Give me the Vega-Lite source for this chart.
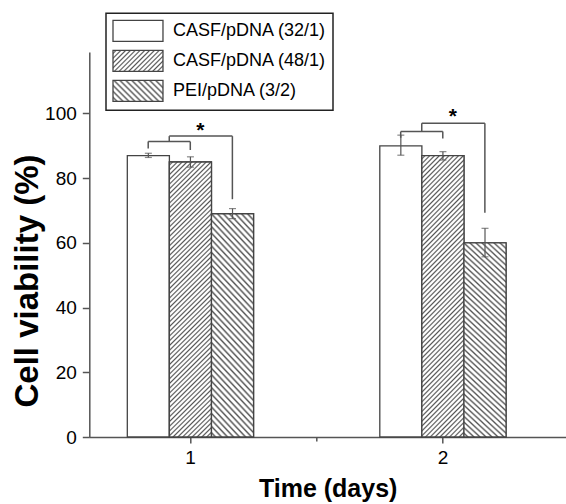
{
  "$schema": "https://vega.github.io/schema/vega-lite/v6.json",
  "width": 476.7,
  "height": 385,
  "autosize": {"type": "none"},
  "padding": {"left": 89.3, "top": 52, "right": 0, "bottom": 67},
  "background": "white",
  "config": {"view": {"stroke": null}, "font": "Liberation Sans", "legend": {"strokeWidth": 1.5}},
  "datasets": {
    "bars": [
      {"day": "1", "series": "CASF/pDNA (32/1)", "mean": 87, "lo": 86.4, "hi": 87.7},
      {"day": "1", "series": "CASF/pDNA (48/1)", "mean": 85, "lo": 83.4, "hi": 86.6},
      {"day": "1", "series": "PEI/pDNA (3/2)", "mean": 69, "lo": 67.5, "hi": 70.6},
      {"day": "2", "series": "CASF/pDNA (32/1)", "mean": 90, "lo": 87.1, "hi": 93.3},
      {"day": "2", "series": "CASF/pDNA (48/1)", "mean": 87, "lo": 85.6, "hi": 88.2},
      {"day": "2", "series": "PEI/pDNA (3/2)", "mean": 60, "lo": 55.7, "hi": 64.5}
    ],
    "brackets": [
      {"x1": 0.8333, "x2": 0.8333, "y1": 89.2, "y2": 91.3},
      {"x1": 0.8333, "x2": 1.0, "y1": 91.3, "y2": 91.3},
      {"x1": 1.0, "x2": 1.0, "y1": 91.3, "y2": 88.7},
      {"x1": 0.9167, "x2": 0.9167, "y1": 91.3, "y2": 93.0},
      {"x1": 0.9167, "x2": 1.1667, "y1": 93.0, "y2": 93.0},
      {"x1": 1.1667, "x2": 1.1667, "y1": 93.0, "y2": 73.5},
      {"x1": 1.8333, "x2": 1.8333, "y1": 92.5, "y2": 94.4},
      {"x1": 1.8333, "x2": 2.0, "y1": 94.4, "y2": 94.4},
      {"x1": 2.0, "x2": 2.0, "y1": 94.4, "y2": 92.3},
      {"x1": 1.9167, "x2": 1.9167, "y1": 94.4, "y2": 97.0},
      {"x1": 1.9167, "x2": 2.1667, "y1": 97.0, "y2": 97.0},
      {"x1": 2.1667, "x2": 2.1667, "y1": 97.0, "y2": 69.3}
    ],
    "stars": [
      {"x": 1.04, "y": 92.8},
      {"x": 2.04, "y": 97.2}
    ]
  },
  "layer": [
    {
      "data": {"name": "bars"},
      "encoding": {
        "x": {
          "field": "day", "type": "nominal",
          "scale": {"domain": ["1", "2"], "paddingInner": 0.5, "paddingOuter": 0.194, "align": 0.388},
          "axis": {"orient": "bottom", "title": "Time (days)", "titleFontSize": 25, "titleFontWeight": "bold", "titleColor": "#000", "titlePadding": 9, "labelAngle": 0, "labelFontSize": 19, "labelColor": "#000", "labelPadding": 5, "tickSize": 6, "tickColor": "#555", "tickWidth": 1.5, "domainColor": "#555", "domainWidth": 1.5, "grid": false}
        },
        "xOffset": {
          "field": "series", "type": "nominal",
          "scale": {"domain": ["CASF/pDNA (32/1)", "CASF/pDNA (48/1)", "PEI/pDNA (3/2)"], "paddingInner": 0, "paddingOuter": 0}
        },
        "y": {
          "field": "mean", "type": "quantitative",
          "scale": {"domain": [0, 119], "nice": false},
          "axis": {"values": [0, 20, 40, 60, 80, 100], "title": "Cell viability (%)", "titleFontSize": 33, "titleFontWeight": "bold", "titleColor": "#000", "titleX": -52, "titleY": 228.5, "titleBaseline": "alphabetic", "titleAngle": -90, "titleAlign": "center", "labelFontSize": 19, "labelColor": "#000", "labelPadding": 6, "tickSize": 7, "tickColor": "#555", "tickWidth": 1.5, "domainColor": "#555", "domainWidth": 1.5, "grid": false}
        }
      },
      "layer": [
        {
          "mark": {"type": "bar", "stroke": "#444", "strokeWidth": 1.3},
          "encoding": {
            "fill": {
              "field": "series", "type": "nominal",
              "scale": {"domain": ["CASF/pDNA (32/1)", "CASF/pDNA (48/1)", "PEI/pDNA (3/2)"], "range": [
                "#ffffff",
                {"expr": "{gradient:'linear',x1:0,y1:0,x2:1.207,y2:0.5072,stops:[{offset:0.0225,color:'#fff'},{offset:0.045,color:'#555'},{offset:0.0675,color:'#fff'},{offset:0.09,color:'#fff'},{offset:0.1125,color:'#555'},{offset:0.135,color:'#fff'},{offset:0.1575,color:'#fff'},{offset:0.18,color:'#555'},{offset:0.2025,color:'#fff'},{offset:0.225,color:'#fff'},{offset:0.2475,color:'#555'},{offset:0.27,color:'#fff'},{offset:0.2925,color:'#fff'},{offset:0.315,color:'#555'},{offset:0.3375,color:'#fff'},{offset:0.36,color:'#fff'},{offset:0.3825,color:'#555'},{offset:0.405,color:'#fff'},{offset:0.4275,color:'#fff'},{offset:0.45,color:'#555'},{offset:0.4725,color:'#fff'},{offset:0.495,color:'#fff'},{offset:0.5175,color:'#555'},{offset:0.54,color:'#fff'},{offset:0.5625,color:'#fff'},{offset:0.585,color:'#555'},{offset:0.6075,color:'#fff'},{offset:0.63,color:'#fff'},{offset:0.6525,color:'#555'},{offset:0.675,color:'#fff'},{offset:0.6975,color:'#fff'},{offset:0.72,color:'#555'},{offset:0.7425,color:'#fff'},{offset:0.765,color:'#fff'},{offset:0.7875,color:'#555'},{offset:0.81,color:'#fff'},{offset:0.8325,color:'#fff'},{offset:0.855,color:'#555'},{offset:0.8775,color:'#fff'},{offset:0.9,color:'#fff'},{offset:0.9225,color:'#555'},{offset:0.945,color:'#fff'}]}"},
                {"expr": "{gradient:'linear',x1:0,y1:1,x2:1.207,y2:0.4928,stops:[{offset:0.028,color:'#fff'},{offset:0.056,color:'#555'},{offset:0.084,color:'#fff'},{offset:0.112,color:'#fff'},{offset:0.14,color:'#555'},{offset:0.168,color:'#fff'},{offset:0.196,color:'#fff'},{offset:0.224,color:'#555'},{offset:0.252,color:'#fff'},{offset:0.28,color:'#fff'},{offset:0.308,color:'#555'},{offset:0.336,color:'#fff'},{offset:0.364,color:'#fff'},{offset:0.392,color:'#555'},{offset:0.42,color:'#fff'},{offset:0.448,color:'#fff'},{offset:0.476,color:'#555'},{offset:0.504,color:'#fff'},{offset:0.532,color:'#fff'},{offset:0.56,color:'#555'},{offset:0.588,color:'#fff'},{offset:0.616,color:'#fff'},{offset:0.644,color:'#555'},{offset:0.672,color:'#fff'},{offset:0.7,color:'#fff'},{offset:0.728,color:'#555'},{offset:0.756,color:'#fff'},{offset:0.784,color:'#fff'},{offset:0.812,color:'#555'},{offset:0.84,color:'#fff'},{offset:0.868,color:'#fff'},{offset:0.896,color:'#555'},{offset:0.924,color:'#fff'}]}"}
              ]},
              "legend": {
                "orient": "none", "legendX": 16.7, "legendY": -38.7,
                "title": null,
                "symbolType": "M-1,-1H3.76V1H-1Z",
                "symbolSize": 441,
                "symbolStrokeColor": "#444", "symbolStrokeWidth": 1.3,
                "labelFontSize": 18, "labelColor": "#000", "labelOffset": 38, "labelLimit": 300,
                "rowPadding": 3, "padding": 6,
                "strokeColor": "#222", "fillColor": "#ffffff"
              }
            }
          }
        },
        {
          "transform": [{"filter": "datum.series === 'CASF/pDNA (48/1)'"}],
          "mark": {"type": "bar", "stroke": "#444", "strokeWidth": 1.3, "fill": {"gradient": "linear", "x1": 0, "y1": 0, "x2": 0.1702, "y2": 1.1254, "stops": [
{"offset":0.005,"color":"#fff"},{"offset":0.01,"color":"#555"},{"offset":0.015,"color":"#fff"},
{"offset":0.02,"color":"#fff"},{"offset":0.025,"color":"#555"},{"offset":0.03,"color":"#fff"},
{"offset":0.035,"color":"#fff"},{"offset":0.04,"color":"#555"},{"offset":0.045,"color":"#fff"},
{"offset":0.05,"color":"#fff"},{"offset":0.055,"color":"#555"},{"offset":0.06,"color":"#fff"},
{"offset":0.065,"color":"#fff"},{"offset":0.07,"color":"#555"},{"offset":0.075,"color":"#fff"},
{"offset":0.08,"color":"#fff"},{"offset":0.085,"color":"#555"},{"offset":0.09,"color":"#fff"},
{"offset":0.095,"color":"#fff"},{"offset":0.1,"color":"#555"},{"offset":0.105,"color":"#fff"},
{"offset":0.11,"color":"#fff"},{"offset":0.115,"color":"#555"},{"offset":0.12,"color":"#fff"},
{"offset":0.125,"color":"#fff"},{"offset":0.13,"color":"#555"},{"offset":0.135,"color":"#fff"},
{"offset":0.14,"color":"#fff"},{"offset":0.145,"color":"#555"},{"offset":0.15,"color":"#fff"},
{"offset":0.155,"color":"#fff"},{"offset":0.16,"color":"#555"},{"offset":0.165,"color":"#fff"},
{"offset":0.17,"color":"#fff"},{"offset":0.175,"color":"#555"},{"offset":0.18,"color":"#fff"},
{"offset":0.185,"color":"#fff"},{"offset":0.19,"color":"#555"},{"offset":0.195,"color":"#fff"},
{"offset":0.2,"color":"#fff"},{"offset":0.205,"color":"#555"},{"offset":0.21,"color":"#fff"},
{"offset":0.215,"color":"#fff"},{"offset":0.22,"color":"#555"},{"offset":0.225,"color":"#fff"},
{"offset":0.23,"color":"#fff"},{"offset":0.235,"color":"#555"},{"offset":0.24,"color":"#fff"},
{"offset":0.245,"color":"#fff"},{"offset":0.25,"color":"#555"},{"offset":0.255,"color":"#fff"},
{"offset":0.26,"color":"#fff"},{"offset":0.265,"color":"#555"},{"offset":0.27,"color":"#fff"},
{"offset":0.275,"color":"#fff"},{"offset":0.28,"color":"#555"},{"offset":0.285,"color":"#fff"},
{"offset":0.29,"color":"#fff"},{"offset":0.295,"color":"#555"},{"offset":0.3,"color":"#fff"},
{"offset":0.305,"color":"#fff"},{"offset":0.31,"color":"#555"},{"offset":0.315,"color":"#fff"},
{"offset":0.32,"color":"#fff"},{"offset":0.325,"color":"#555"},{"offset":0.33,"color":"#fff"},
{"offset":0.335,"color":"#fff"},{"offset":0.34,"color":"#555"},{"offset":0.345,"color":"#fff"},
{"offset":0.35,"color":"#fff"},{"offset":0.355,"color":"#555"},{"offset":0.36,"color":"#fff"},
{"offset":0.365,"color":"#fff"},{"offset":0.37,"color":"#555"},{"offset":0.375,"color":"#fff"},
{"offset":0.38,"color":"#fff"},{"offset":0.385,"color":"#555"},{"offset":0.39,"color":"#fff"},
{"offset":0.395,"color":"#fff"},{"offset":0.4,"color":"#555"},{"offset":0.405,"color":"#fff"},
{"offset":0.41,"color":"#fff"},{"offset":0.415,"color":"#555"},{"offset":0.42,"color":"#fff"},
{"offset":0.425,"color":"#fff"},{"offset":0.43,"color":"#555"},{"offset":0.435,"color":"#fff"},
{"offset":0.44,"color":"#fff"},{"offset":0.445,"color":"#555"},{"offset":0.45,"color":"#fff"},
{"offset":0.455,"color":"#fff"},{"offset":0.46,"color":"#555"},{"offset":0.465,"color":"#fff"},
{"offset":0.47,"color":"#fff"},{"offset":0.475,"color":"#555"},{"offset":0.48,"color":"#fff"},
{"offset":0.485,"color":"#fff"},{"offset":0.49,"color":"#555"},{"offset":0.495,"color":"#fff"},
{"offset":0.5,"color":"#fff"},{"offset":0.505,"color":"#555"},{"offset":0.51,"color":"#fff"},
{"offset":0.515,"color":"#fff"},{"offset":0.52,"color":"#555"},{"offset":0.525,"color":"#fff"},
{"offset":0.53,"color":"#fff"},{"offset":0.535,"color":"#555"},{"offset":0.54,"color":"#fff"},
{"offset":0.545,"color":"#fff"},{"offset":0.55,"color":"#555"},{"offset":0.555,"color":"#fff"},
{"offset":0.56,"color":"#fff"},{"offset":0.565,"color":"#555"},{"offset":0.57,"color":"#fff"},
{"offset":0.575,"color":"#fff"},{"offset":0.58,"color":"#555"},{"offset":0.585,"color":"#fff"},
{"offset":0.59,"color":"#fff"},{"offset":0.595,"color":"#555"},{"offset":0.6,"color":"#fff"},
{"offset":0.605,"color":"#fff"},{"offset":0.61,"color":"#555"},{"offset":0.615,"color":"#fff"},
{"offset":0.62,"color":"#fff"},{"offset":0.625,"color":"#555"},{"offset":0.63,"color":"#fff"},
{"offset":0.635,"color":"#fff"},{"offset":0.64,"color":"#555"},{"offset":0.645,"color":"#fff"},
{"offset":0.65,"color":"#fff"},{"offset":0.655,"color":"#555"},{"offset":0.66,"color":"#fff"},
{"offset":0.665,"color":"#fff"},{"offset":0.67,"color":"#555"},{"offset":0.675,"color":"#fff"},
{"offset":0.68,"color":"#fff"},{"offset":0.685,"color":"#555"},{"offset":0.69,"color":"#fff"},
{"offset":0.695,"color":"#fff"},{"offset":0.7,"color":"#555"},{"offset":0.705,"color":"#fff"},
{"offset":0.71,"color":"#fff"},{"offset":0.715,"color":"#555"},{"offset":0.72,"color":"#fff"},
{"offset":0.725,"color":"#fff"},{"offset":0.73,"color":"#555"},{"offset":0.735,"color":"#fff"},
{"offset":0.74,"color":"#fff"},{"offset":0.745,"color":"#555"},{"offset":0.75,"color":"#fff"},
{"offset":0.755,"color":"#fff"},{"offset":0.76,"color":"#555"},{"offset":0.765,"color":"#fff"},
{"offset":0.77,"color":"#fff"},{"offset":0.775,"color":"#555"},{"offset":0.78,"color":"#fff"},
{"offset":0.785,"color":"#fff"},{"offset":0.79,"color":"#555"},{"offset":0.795,"color":"#fff"},
{"offset":0.8,"color":"#fff"},{"offset":0.805,"color":"#555"},{"offset":0.81,"color":"#fff"},
{"offset":0.815,"color":"#fff"},{"offset":0.82,"color":"#555"},{"offset":0.825,"color":"#fff"},
{"offset":0.83,"color":"#fff"},{"offset":0.835,"color":"#555"},{"offset":0.84,"color":"#fff"},
{"offset":0.845,"color":"#fff"},{"offset":0.85,"color":"#555"},{"offset":0.855,"color":"#fff"},
{"offset":0.86,"color":"#fff"},{"offset":0.865,"color":"#555"},{"offset":0.87,"color":"#fff"},
{"offset":0.875,"color":"#fff"},{"offset":0.88,"color":"#555"},{"offset":0.885,"color":"#fff"},
{"offset":0.89,"color":"#fff"},{"offset":0.895,"color":"#555"},{"offset":0.9,"color":"#fff"},
{"offset":0.905,"color":"#fff"},{"offset":0.91,"color":"#555"},{"offset":0.915,"color":"#fff"},
{"offset":0.92,"color":"#fff"},{"offset":0.925,"color":"#555"},{"offset":0.93,"color":"#fff"},
{"offset":0.935,"color":"#fff"},{"offset":0.94,"color":"#555"},{"offset":0.945,"color":"#fff"},
{"offset":0.95,"color":"#fff"},{"offset":0.955,"color":"#555"},{"offset":0.96,"color":"#fff"},
{"offset":0.965,"color":"#fff"},{"offset":0.97,"color":"#555"},{"offset":0.975,"color":"#fff"},
{"offset":0.98,"color":"#fff"},{"offset":0.985,"color":"#555"},{"offset":0.99,"color":"#fff"}
          ]}},
          "encoding": {}
        },
        {
          "transform": [{"filter": "datum.series === 'PEI/pDNA (3/2)'"}],
          "mark": {"type": "bar", "stroke": "#444", "strokeWidth": 1.3, "fill": {"gradient": "linear", "x1": 0, "y1": 1, "x2": 0.2329, "y2": -0.1548, "stops": [
{"offset":0.008,"color":"#fff"},{"offset":0.016,"color":"#555"},{"offset":0.024,"color":"#fff"},
{"offset":0.032,"color":"#fff"},{"offset":0.04,"color":"#555"},{"offset":0.048,"color":"#fff"},
{"offset":0.056,"color":"#fff"},{"offset":0.064,"color":"#555"},{"offset":0.072,"color":"#fff"},
{"offset":0.08,"color":"#fff"},{"offset":0.088,"color":"#555"},{"offset":0.096,"color":"#fff"},
{"offset":0.104,"color":"#fff"},{"offset":0.112,"color":"#555"},{"offset":0.12,"color":"#fff"},
{"offset":0.128,"color":"#fff"},{"offset":0.136,"color":"#555"},{"offset":0.144,"color":"#fff"},
{"offset":0.152,"color":"#fff"},{"offset":0.16,"color":"#555"},{"offset":0.168,"color":"#fff"},
{"offset":0.176,"color":"#fff"},{"offset":0.184,"color":"#555"},{"offset":0.192,"color":"#fff"},
{"offset":0.2,"color":"#fff"},{"offset":0.208,"color":"#555"},{"offset":0.216,"color":"#fff"},
{"offset":0.224,"color":"#fff"},{"offset":0.232,"color":"#555"},{"offset":0.24,"color":"#fff"},
{"offset":0.248,"color":"#fff"},{"offset":0.256,"color":"#555"},{"offset":0.264,"color":"#fff"},
{"offset":0.272,"color":"#fff"},{"offset":0.28,"color":"#555"},{"offset":0.288,"color":"#fff"},
{"offset":0.296,"color":"#fff"},{"offset":0.304,"color":"#555"},{"offset":0.312,"color":"#fff"},
{"offset":0.32,"color":"#fff"},{"offset":0.328,"color":"#555"},{"offset":0.336,"color":"#fff"},
{"offset":0.344,"color":"#fff"},{"offset":0.352,"color":"#555"},{"offset":0.36,"color":"#fff"},
{"offset":0.368,"color":"#fff"},{"offset":0.376,"color":"#555"},{"offset":0.384,"color":"#fff"},
{"offset":0.392,"color":"#fff"},{"offset":0.4,"color":"#555"},{"offset":0.408,"color":"#fff"},
{"offset":0.416,"color":"#fff"},{"offset":0.424,"color":"#555"},{"offset":0.432,"color":"#fff"},
{"offset":0.44,"color":"#fff"},{"offset":0.448,"color":"#555"},{"offset":0.456,"color":"#fff"},
{"offset":0.464,"color":"#fff"},{"offset":0.472,"color":"#555"},{"offset":0.48,"color":"#fff"},
{"offset":0.488,"color":"#fff"},{"offset":0.496,"color":"#555"},{"offset":0.504,"color":"#fff"},
{"offset":0.512,"color":"#fff"},{"offset":0.52,"color":"#555"},{"offset":0.528,"color":"#fff"},
{"offset":0.536,"color":"#fff"},{"offset":0.544,"color":"#555"},{"offset":0.552,"color":"#fff"},
{"offset":0.56,"color":"#fff"},{"offset":0.568,"color":"#555"},{"offset":0.576,"color":"#fff"},
{"offset":0.584,"color":"#fff"},{"offset":0.592,"color":"#555"},{"offset":0.6,"color":"#fff"},
{"offset":0.608,"color":"#fff"},{"offset":0.616,"color":"#555"},{"offset":0.624,"color":"#fff"},
{"offset":0.632,"color":"#fff"},{"offset":0.64,"color":"#555"},{"offset":0.648,"color":"#fff"},
{"offset":0.656,"color":"#fff"},{"offset":0.664,"color":"#555"},{"offset":0.672,"color":"#fff"},
{"offset":0.68,"color":"#fff"},{"offset":0.688,"color":"#555"},{"offset":0.696,"color":"#fff"},
{"offset":0.704,"color":"#fff"},{"offset":0.712,"color":"#555"},{"offset":0.72,"color":"#fff"},
{"offset":0.728,"color":"#fff"},{"offset":0.736,"color":"#555"},{"offset":0.744,"color":"#fff"},
{"offset":0.752,"color":"#fff"},{"offset":0.76,"color":"#555"},{"offset":0.768,"color":"#fff"},
{"offset":0.776,"color":"#fff"},{"offset":0.784,"color":"#555"},{"offset":0.792,"color":"#fff"},
{"offset":0.8,"color":"#fff"},{"offset":0.808,"color":"#555"},{"offset":0.816,"color":"#fff"},
{"offset":0.824,"color":"#fff"},{"offset":0.832,"color":"#555"},{"offset":0.84,"color":"#fff"},
{"offset":0.848,"color":"#fff"},{"offset":0.856,"color":"#555"},{"offset":0.864,"color":"#fff"},
{"offset":0.872,"color":"#fff"},{"offset":0.88,"color":"#555"},{"offset":0.888,"color":"#fff"},
{"offset":0.896,"color":"#fff"},{"offset":0.904,"color":"#555"},{"offset":0.912,"color":"#fff"},
{"offset":0.92,"color":"#fff"},{"offset":0.928,"color":"#555"},{"offset":0.936,"color":"#fff"},
{"offset":0.944,"color":"#fff"},{"offset":0.952,"color":"#555"},{"offset":0.96,"color":"#fff"},
{"offset":0.968,"color":"#fff"},{"offset":0.976,"color":"#555"},{"offset":0.984,"color":"#fff"}
          ]}},
          "encoding": {}
        },
        {
          "mark": {"type": "rule", "color": "#555", "strokeWidth": 1.2},
          "encoding": {
            "y": {"field": "lo", "type": "quantitative", "scale": {"domain": [0, 119], "nice": false}},
            "y2": {"field": "hi"}
          }
        },
        {
          "mark": {"type": "tick", "color": "#555", "thickness": 1.2, "size": 7},
          "encoding": {
            "y": {"field": "lo", "type": "quantitative", "scale": {"domain": [0, 119], "nice": false}}
          }
        },
        {
          "mark": {"type": "tick", "color": "#555", "thickness": 1.2, "size": 7},
          "encoding": {
            "y": {"field": "hi", "type": "quantitative", "scale": {"domain": [0, 119], "nice": false}}
          }
        }
      ]
    },
    {
      "layer": [
        {
          "data": {"name": "brackets"},
          "mark": {"type": "rule", "color": "#555", "strokeWidth": 1.5},
          "encoding": {
            "x": {"field": "x1", "type": "quantitative", "scale": {"domain": [0.6, 2.488], "nice": false, "zero": false},
              "axis": {"orient": "bottom", "values": [1.5], "labels": false, "domain": false, "grid": false, "title": null, "ticks": true, "tickSize": 4, "tickColor": "#555", "tickWidth": 1.5}},
            "x2": {"field": "x2"},
            "y": {"field": "y1", "type": "quantitative", "scale": {"domain": [0, 119], "nice": false}},
            "y2": {"field": "y2"}
          }
        },
        {
          "data": {"name": "stars"},
          "mark": {"type": "text", "text": "*", "fontSize": 21, "fontWeight": "bold", "color": "#000", "baseline": "alphabetic", "align": "center"},
          "encoding": {
            "x": {"field": "x", "type": "quantitative", "scale": {"domain": [0.6, 2.488], "nice": false, "zero": false}},
            "y": {"field": "y", "type": "quantitative", "scale": {"domain": [0, 119], "nice": false}}
          }
        }
      ]
    }
  ],
  "resolve": {"scale": {"x": "independent"}, "axis": {"x": "independent"}}
}
